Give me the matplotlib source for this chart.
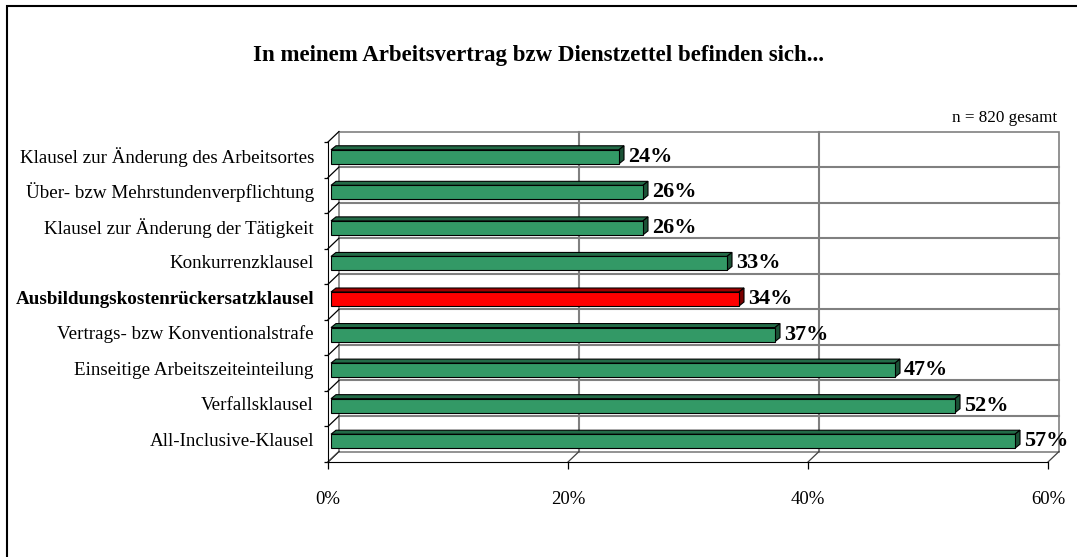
import matplotlib.pyplot as plt
from matplotlib.patches import Polygon, Rectangle

# Data
labels = ["Klausel zur Änderung des Arbeitsortes",
          "Über- bzw Mehrstundenverpflichtung",
          "Klausel zur Änderung der Tätigkeit",
          "Konkurrenzklausel",
          "Ausbildungskostenrückersatzklausel",
          "Vertrags- bzw Konventionalstrafe",
          "Einseitige Arbeitszeiteinteilung",
          "Verfallsklausel",
          "All-Inclusive-Klausel"]
values = [24, 26, 26, 33, 34, 37, 47, 52, 57]
highlight = "Ausbildungskostenrückersatzklausel"
xticks = [0, 20, 40, 60]
xtick_labels = ["0%", "20%", "40%", "60%"]
title = "In meinem Arbeitsvertrag bzw Dienstzettel befinden sich..."
note = "n = 820 gesamt"

plt.rcParams['font.family'] = 'Liberation Serif'

W, H = 1077, 557
fig = plt.figure(figsize=(W / 100, H / 100), dpi=100)

# front plane of the 3D box (pixels)
x0, x1 = 328, 1048
ytop, ybot = 142, 462
ax = fig.add_axes([x0 / W, 1 - ybot / H, (x1 - x0) / W, (ybot - ytop) / H])
n = len(labels)
xmax = xticks[-1]
ax.set_xlim(0, xmax)
ax.set_ylim(n - 0.5, -0.5)
ax.set_facecolor('none')

px_x = (x1 - x0) / xmax
px_y = (ybot - ytop) / n


def off(dx, dy):
    # pixel offset (right, up) -> data offset
    return dx / px_x, -dy / px_y


grey = '#808080'
bwx, bwy = off(11, 10.5)   # back wall depth
bfx, bfy = off(3, 3)       # bar front
bbx, bby = off(8, 7)       # bar back

# back wall
ax.add_patch(Rectangle((bwx, -0.5 + bwy), xmax, n, facecolor='white',
                       edgecolor=grey, lw=1.2, zorder=1, clip_on=False))
for v in xticks[1:-1]:
    ax.plot([v + bwx] * 2, [-0.5 + bwy, n - 0.5 + bwy], color=grey, lw=1.5,
            zorder=1.5, clip_on=False)
bounds = [i + 0.5 for i in range(-1, n)]
for b in bounds[1:-1]:
    ax.plot([bwx, xmax + bwx], [b + bwy] * 2, color=grey, lw=1.5,
            zorder=1.5, clip_on=False)

# left wall diagonals
for b in bounds:
    ax.plot([0, bwx], [b, b + bwy], color='black', lw=0.9, zorder=2, clip_on=False)
# floor diagonals
for v in xticks:
    ax.plot([v, v + bwx], [n - 0.5, n - 0.5 + bwy], color='#404040', lw=0.9,
            zorder=2, clip_on=False)

# bars
h = 14 / px_y
for i, (lab, v) in enumerate(zip(labels, values)):
    if lab == highlight:
        front, top, side = '#ff0000', '#a00000', '#7a0000'
    else:
        front, top, side = '#339966', '#236b47', '#1b5236'
    yt = i - h / 2
    yb = i + h / 2
    ax.add_patch(Polygon([(bfx, yt + bfy), (bfx + v, yt + bfy), (bbx + v, yt + bby), (bbx, yt + bby)],
                         closed=True, facecolor=top, edgecolor='black', lw=0.8, zorder=3))
    ax.add_patch(Polygon([(bfx + v, yt + bfy), (bfx + v, yb + bfy), (bbx + v, yb + bby), (bbx + v, yt + bby)],
                         closed=True, facecolor=side, edgecolor='black', lw=0.8, zorder=3, clip_on=False))
    ax.barh(i + bfy, v, left=bfx, height=h, color=front, edgecolor='black', lw=0.8, zorder=4)
    ax.text(v + bbx + off(4, 0)[0], i + bfy, f"{v}%", ha='left', va='center',
            fontsize=16, fontweight='bold', clip_on=False)
    ax.text(-off(14, 0)[0], i + bfy, lab, ha='right', va='center', fontsize=13.7,
            fontweight='bold' if lab == highlight else 'normal')

# axes
for s in ['top', 'right']:
    ax.spines[s].set_visible(False)
ax.spines['left'].set_color('black')
ax.spines['bottom'].set_color('black')
ax.spines['left'].set_zorder(2)
ax.set_yticks(bounds)
ax.set_yticklabels([])
ax.tick_params(axis='y', length=3, width=0.9, color='black')
ax.set_xticks(xticks)
ax.set_xticklabels(xtick_labels)
ax.tick_params(axis='x', length=5, width=0.9, color='black', pad=16, labelsize=13.5)

fig.text(0.5, 1 - 55 / H, title, ha='center', va='center', fontsize=16.5, fontweight='bold')
fig.text(1057 / W, 1 - 118 / H, note, ha='right', va='center', fontsize=12.3)

fig.patches.append(Rectangle((7 / W, -0.1), 1.2, 1.1 - 6 / H, transform=fig.transFigure,
                             fill=False, edgecolor='black', lw=1.5))

fig.savefig('out.png', dpi=100)
